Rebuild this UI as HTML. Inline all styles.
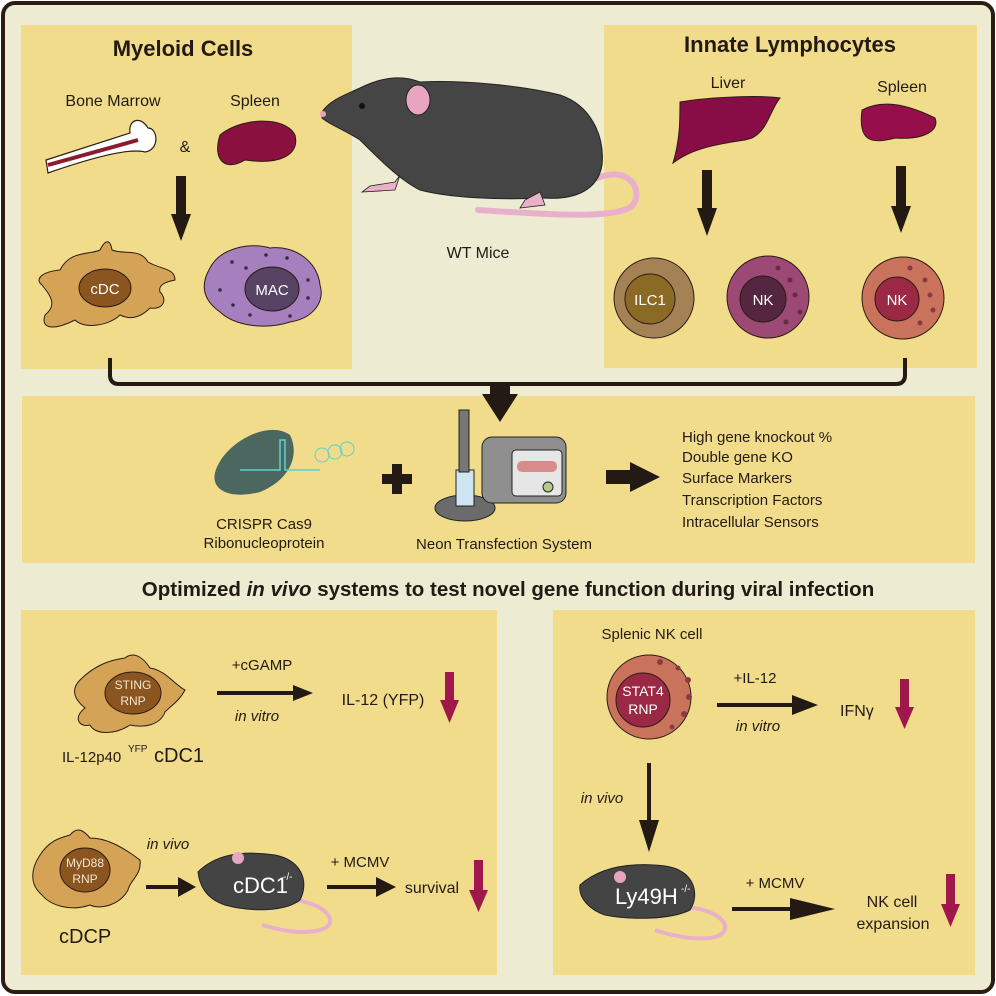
<!DOCTYPE html>
<html><head><meta charset="utf-8"><style>
html,body{margin:0;padding:0;background:#fff}
svg{display:block}
text{font-family:"Liberation Sans",Arial,sans-serif;fill:#231a14}
</style></head><body>
<svg width="996" height="996" viewBox="0 0 996 996" xmlns="http://www.w3.org/2000/svg">
<rect x="3" y="3" width="990" height="989" rx="12" fill="#eeebd3" stroke="#2b1d14" stroke-width="4"/>
<rect x="21" y="25" width="331" height="344" fill="#f1dc8c"/>
<rect x="604" y="25" width="373" height="343" fill="#f1dc8c"/>
<rect x="22" y="396" width="953" height="167" fill="#f1dc8c"/>
<rect x="21" y="610" width="476" height="365" fill="#f1dc8c"/>
<rect x="553" y="610" width="422" height="365" fill="#f1dc8c"/>

<!-- Myeloid -->
<text x="183" y="56" font-size="22" font-weight="bold" text-anchor="middle">Myeloid Cells</text>
<text x="113" y="106" font-size="16" text-anchor="middle">Bone Marrow</text>
<text x="255" y="106" font-size="16" text-anchor="middle">Spleen</text>
<text x="185" y="152" font-size="16" text-anchor="middle">&amp;</text>
<path d="M46 160 L130 133 C128 120 140 115 148 128 C158 128 160 150 145 152 C138 150 120 148 48 173 Z" fill="#fff" stroke="#2b1d14" stroke-width="1.2"/>
<path d="M48 165 L138 140" stroke="#8a1c2c" stroke-width="4"/>
<path d="M220 135 C240 118 285 115 295 135 C300 155 280 165 245 160 C225 172 212 160 220 135 Z" fill="#8a1040" stroke="#2b1d14" stroke-width="1"/>
<rect x="176" y="176" width="10" height="40" fill="#231a14"/>
<polygon points="171,214 191,214 181,241" fill="#231a14"/>
<path d="M60 270 C70 250 90 255 100 250 C105 240 110 238 112 250 C125 255 140 248 148 262 C162 270 175 268 175 280 C165 282 158 285 160 292 C168 300 163 310 150 308 C140 318 130 320 120 315 C110 325 85 330 75 320 C55 330 40 330 45 315 C58 305 50 295 42 285 C35 280 40 272 60 270 Z" fill="#d4a356" stroke="#2b1d14" stroke-width="1"/>
<ellipse cx="105" cy="288" rx="26" ry="19" fill="#8b5520" stroke="#2b1d14"/>
<text x="105" y="294" font-size="15" text-anchor="middle" style="fill:#fff">cDC</text>
<path d="M210 268 C220 248 250 242 270 248 C295 245 318 262 320 285 C325 300 315 318 290 322 C265 330 235 326 220 312 C203 300 200 285 210 268 Z" fill="#a67fbf" stroke="#2b1d14"/>
<ellipse cx="272" cy="289" rx="27" ry="22" fill="#574363" stroke="#2b1d14"/>
<text x="272" y="295" font-size="15" text-anchor="middle" style="fill:#fff">MAC</text>
<g fill="#3a2a40"><circle cx="232" cy="262" r="1.8"/><circle cx="246" cy="268" r="1.8"/><circle cx="220" cy="290" r="1.8"/><circle cx="233" cy="305" r="1.8"/><circle cx="250" cy="315" r="1.8"/><circle cx="290" cy="316" r="1.8"/><circle cx="308" cy="298" r="1.8"/><circle cx="308" cy="280" r="1.8"/><circle cx="287" cy="258" r="1.8"/><circle cx="266" cy="255" r="1.8"/></g>

<!-- big mouse -->
<path d="M598 178 C628 165 645 190 632 206 C615 220 540 214 478 210" fill="none" stroke="#e8b0cb" stroke-width="6" stroke-linecap="round"/>
<path d="M322 112 C330 100 345 95 360 88 C380 78 400 74 420 82 C460 80 520 85 560 95 C590 105 605 135 602 165 C598 190 575 200 545 198 C500 200 450 198 420 190 C400 180 380 160 360 140 C345 130 330 125 322 118 Z" fill="#454545" stroke="#222"/>
<ellipse cx="418" cy="100" rx="12" ry="15" fill="#e8a5c0" stroke="#222"/>
<circle cx="362" cy="106" r="3" fill="#111"/>
<circle cx="323" cy="114" r="3" fill="#e8a5c0"/>
<path d="M400 175 L395 190 L362 192 L370 186 L395 182 Z" fill="#eab0c8" stroke="#222" stroke-width="0.8"/>
<path d="M540 192 L545 205 L520 208 L525 200 Z" fill="#eab0c8" stroke="#222" stroke-width="0.8"/>
<text x="478" y="258" font-size="16" text-anchor="middle">WT Mice</text>

<!-- Innate -->
<text x="790" y="52" font-size="22" font-weight="bold" text-anchor="middle">Innate Lymphocytes</text>
<text x="728" y="88" font-size="16" text-anchor="middle">Liver</text>
<text x="902" y="92" font-size="16" text-anchor="middle">Spleen</text>
<path d="M680 102 C710 97 760 95 780 98 C770 110 768 130 752 138 L745 140 C710 145 690 150 673 163 C680 140 680 120 680 102 Z" fill="#880d46" stroke="#2b1d14"/>
<path d="M862 110 C880 100 905 103 935 118 C940 130 925 140 895 138 C870 145 858 140 862 110 Z" fill="#960f4a" stroke="#2b1d14"/>
<rect x="702" y="170" width="10" height="40" fill="#231a14"/><polygon points="697,208 717,208 707,236" fill="#231a14"/>
<rect x="896" y="166" width="10" height="42" fill="#231a14"/><polygon points="891,206 911,206 901,233" fill="#231a14"/>
<circle cx="654" cy="298" r="40" fill="#a58156" stroke="#2b1d14"/>
<circle cx="650" cy="299" r="25" fill="#8a6a24" stroke="#2b1d14"/>
<text x="650" y="305" font-size="15" text-anchor="middle" style="fill:#fff">ILC1</text>
<circle cx="768" cy="297" r="41" fill="#9c4a75" stroke="#2b1d14"/>
<circle cx="763" cy="299" r="23" fill="#55263f" stroke="#2b1d14"/>
<text x="763" y="305" font-size="15" text-anchor="middle" style="fill:#fff">NK</text>
<circle cx="903" cy="298" r="41" fill="#c9735c" stroke="#2b1d14"/>
<circle cx="897" cy="299" r="22" fill="#9b2845" stroke="#2b1d14"/>
<text x="897" y="305" font-size="15" text-anchor="middle" style="fill:#fff">NK</text>
<g fill="#6a2a45"><circle cx="790" cy="280" r="2.5"/><circle cx="795" cy="295" r="2.5"/><circle cx="800" cy="312" r="2.5"/><circle cx="786" cy="322" r="2.5"/><circle cx="778" cy="268" r="2.5"/></g>
<g fill="#8a3a45"><circle cx="925" cy="280" r="2.5"/><circle cx="930" cy="295" r="2.5"/><circle cx="933" cy="310" r="2.5"/><circle cx="920" cy="323" r="2.5"/><circle cx="910" cy="268" r="2.5"/></g>

<!-- connector -->
<path d="M110 358 V375 Q110 384 119 384 H896 Q905 384 905 375 V358" fill="none" stroke="#231a14" stroke-width="4"/>
<rect x="490" y="384" width="20" height="12" fill="#231a14"/>
<polygon points="482,394 518,394 500,422" fill="#231a14"/>

<!-- middle -->
<path d="M218 465 C230 440 270 420 290 435 C300 455 290 480 260 492 C230 500 205 490 218 465 Z" fill="#4c6660"/>
<path d="M240 470 H280 V440 H285 V470 H320" stroke="#5fd0c8" stroke-width="1.5" fill="none"/>
<circle cx="322" cy="455" r="7" fill="none" stroke="#5fd0c8"/><circle cx="335" cy="452" r="7" fill="none" stroke="#5fd0c8"/><circle cx="347" cy="449" r="7" fill="none" stroke="#5fd0c8"/>
<text x="264" y="529" font-size="15" text-anchor="middle">CRISPR Cas9</text>
<text x="264" y="548" font-size="15" text-anchor="middle">Ribonucleoprotein</text>
<rect x="382" y="474" width="30" height="10" fill="#231a14"/><rect x="392" y="464" width="10" height="30" fill="#231a14"/>
<ellipse cx="465" cy="508" rx="30" ry="13" fill="#6b6b6b" stroke="#222"/>
<rect x="456" y="470" width="18" height="36" fill="#cde6f2" stroke="#222"/>
<rect x="459" y="410" width="10" height="62" fill="#777" stroke="#222"/>
<rect x="482" y="437" width="84" height="66" rx="10" fill="#8f8f8f" stroke="#222"/>
<rect x="512" y="450" width="50" height="46" rx="4" fill="#e6e6e6" stroke="#222"/>
<rect x="517" y="461" width="40" height="11" rx="5" fill="#d98a8a"/>
<circle cx="548" cy="487" r="5" fill="#b5cc88" stroke="#222"/>
<text x="504" y="549" font-size="15" text-anchor="middle">Neon Transfection System</text>
<rect x="606" y="470" width="26" height="14" fill="#231a14"/><polygon points="630,462 630,492 660,477" fill="#231a14"/>
<g font-size="15"><text x="682" y="442">High gene knockout %</text><text x="682" y="462">Double gene KO</text><text x="682" y="483">Surface Markers</text><text x="682" y="505">Transcription Factors</text><text x="682" y="527">Intracellular Sensors</text></g>

<text x="508" y="596" font-size="20.5" font-weight="bold" text-anchor="middle">Optimized <tspan font-style="italic">in vivo</tspan> systems to test novel gene function during viral infection</text>

<!-- bottom left -->
<path d="M80 680 C95 665 110 660 125 658 C135 650 145 660 150 668 C165 670 175 685 185 690 C180 700 172 705 165 712 C160 725 145 728 130 725 C115 735 95 735 90 725 C80 728 72 718 85 708 C75 700 70 690 80 680 Z" fill="#d4a356" stroke="#2b1d14"/>
<ellipse cx="133" cy="693" rx="28" ry="21" fill="#8b5520" stroke="#2b1d14"/>
<text x="133" y="689" font-size="12" text-anchor="middle" style="fill:#f4e6d0">STING</text>
<text x="133" y="705" font-size="12" text-anchor="middle" style="fill:#f4e6d0">RNP</text>
<text x="62" y="762" font-size="15">IL-12p40</text><text x="128" y="752" font-size="10">YFP</text><text x="154" y="762" font-size="20">cDC1</text>
<text x="262" y="670" font-size="15" text-anchor="middle">+cGAMP</text>
<rect x="217" y="691" width="80" height="4" fill="#231a14"/><polygon points="293,685 313,693 293,701" fill="#231a14"/>
<text x="257" y="721" font-size="15" font-style="italic" text-anchor="middle">in vitro</text>
<text x="383" y="705" font-size="16" text-anchor="middle">IL-12 (YFP)</text>
<rect x="445" y="672" width="9" height="30" fill="#a0174b"/><polygon points="440,700 459,700 449.5,723" fill="#a0174b"/>
<path d="M40 855 C50 840 60 838 70 835 C78 825 85 832 90 838 C105 838 120 845 140 860 C142 875 130 880 128 890 C120 905 100 910 90 905 C70 912 50 905 42 895 C30 885 30 870 40 855 Z" fill="#d4a356" stroke="#2b1d14"/>
<ellipse cx="85" cy="870" rx="25" ry="22" fill="#8b5520" stroke="#2b1d14"/>
<text x="85" y="867" font-size="12" text-anchor="middle" style="fill:#f4e6d0">MyD88</text>
<text x="85" y="883" font-size="12" text-anchor="middle" style="fill:#f4e6d0">RNP</text>
<text x="59" y="943" font-size="20">cDCP</text>
<text x="168" y="849" font-size="15" font-style="italic" text-anchor="middle">in vivo</text>
<rect x="146" y="885" width="34" height="4" fill="#231a14"/><polygon points="178,877 196,887 178,897" fill="#231a14"/>
<path d="M295 900 C330 905 340 925 320 930 C300 935 280 930 262 925" fill="none" stroke="#e8b0cb" stroke-width="4"/>
<path d="M198 872 C215 855 240 850 275 855 C300 860 310 880 300 900 C285 912 250 912 225 905 C210 900 200 890 198 872 Z" fill="#444" stroke="#222"/>
<ellipse cx="238" cy="858" rx="6" ry="6" fill="#e8a5c0"/>
<text x="233" y="893" font-size="22" style="fill:#fff">cDC1</text><text x="283" y="880" font-size="10" style="fill:#fff">-/-</text>
<text x="360" y="867" font-size="15" text-anchor="middle">+ MCMV</text>
<rect x="327" y="885" width="52" height="4" fill="#231a14"/><polygon points="376,877 396,887 376,897" fill="#231a14"/>
<text x="432" y="893" font-size="16" text-anchor="middle">survival</text>
<rect x="474" y="860" width="9" height="32" fill="#a0174b"/><polygon points="469,890 488,890 478.5,912" fill="#a0174b"/>

<!-- bottom right -->
<text x="652" y="639" font-size="15" text-anchor="middle">Splenic NK cell</text>
<circle cx="649" cy="697" r="42" fill="#c9735c" stroke="#2b1d14"/>
<circle cx="643" cy="700" r="27" fill="#9b2845" stroke="#2b1d14"/>
<text x="643" y="696" font-size="14" text-anchor="middle" style="fill:#fff">STAT4</text>
<text x="643" y="714" font-size="14" text-anchor="middle" style="fill:#fff">RNP</text>
<g fill="#8a3a45"><circle cx="660" cy="662" r="3"/><circle cx="678" cy="668" r="2.5"/><circle cx="688" cy="680" r="3"/><circle cx="689" cy="697" r="3"/><circle cx="684" cy="714" r="3"/><circle cx="672" cy="727" r="2.5"/></g>
<text x="755" y="683" font-size="15" text-anchor="middle">+IL-12</text>
<rect x="717" y="703" width="78" height="4" fill="#231a14"/><polygon points="792,695 818,705 792,715" fill="#231a14"/>
<text x="758" y="731" font-size="15" font-style="italic" text-anchor="middle">in vitro</text>
<text x="840" y="716" font-size="16">IFNγ</text>
<rect x="900" y="679" width="9" height="30" fill="#a0174b"/><polygon points="895,707 914,707 904.5,729" fill="#a0174b"/>
<rect x="647" y="763" width="4" height="60" fill="#231a14"/><polygon points="639,820 659,820 649,852" fill="#231a14"/>
<text x="602" y="803" font-size="15" font-style="italic" text-anchor="middle">in vivo</text>
<path d="M688 907 C730 912 735 935 710 938 C690 940 670 935 655 930" fill="none" stroke="#e8b0cb" stroke-width="4"/>
<path d="M580 885 C600 867 630 862 665 866 C695 870 700 895 690 910 C670 920 630 920 605 915 C590 910 578 898 580 885 Z" fill="#444" stroke="#222"/>
<ellipse cx="620" cy="877" rx="6" ry="6" fill="#e8a5c0"/>
<text x="615" y="904" font-size="22" style="fill:#fff">Ly49H</text><text x="681" y="892" font-size="10" style="fill:#fff">-/-</text>
<text x="775" y="888" font-size="15" text-anchor="middle">+ MCMV</text>
<rect x="732" y="907" width="62" height="4" fill="#231a14"/><polygon points="790,898 835,909 790,920" fill="#231a14"/>
<text x="892" y="907" font-size="16" text-anchor="middle">NK cell</text>
<text x="893" y="929" font-size="16" text-anchor="middle">expansion</text>
<rect x="946" y="874" width="9" height="32" fill="#a0174b"/><polygon points="941,904 960,904 950.5,927" fill="#a0174b"/>
</svg>
</body></html>
